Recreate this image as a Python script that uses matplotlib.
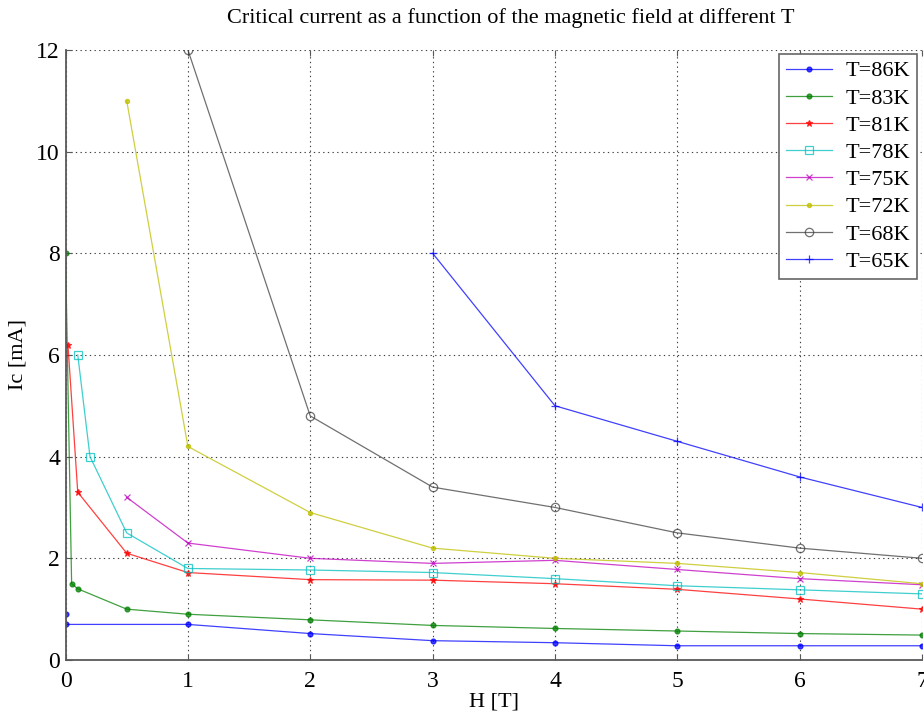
import matplotlib
matplotlib.use("Agg")
import matplotlib.pyplot as plt

plt.rcParams['font.family'] = ['Liberation Serif', 'DejaVu Serif']

# Critical current Ic [mA] versus applied field H [T] for each temperature
h_86 = [0, 0, 1, 2, 3, 4, 5, 6, 7]
ic_86 = [0.9, 0.7, 0.7, 0.52, 0.38, 0.34, 0.28, 0.28, 0.28]

h_83 = [0, 0.05, 0.1, 0.5, 1, 2, 3, 4, 5, 6, 7]
ic_83 = [8.0, 1.5, 1.4, 1.0, 0.9, 0.79, 0.68, 0.62, 0.57, 0.52, 0.49]

h_81 = [0.02, 0.1, 0.5, 1, 2, 3, 4, 5, 6, 7]
ic_81 = [6.2, 3.3, 2.1, 1.72, 1.58, 1.57, 1.5, 1.39, 1.2, 1.0]

h_78 = [0.1, 0.2, 0.5, 1, 2, 3, 4, 5, 6, 7]
ic_78 = [6.0, 4.0, 2.5, 1.8, 1.77, 1.72, 1.6, 1.46, 1.38, 1.3]

h_75 = [0.5, 1, 2, 3, 4, 5, 6, 7]
ic_75 = [3.2, 2.3, 2.0, 1.9, 1.96, 1.78, 1.6, 1.48]

h_72 = [0.5, 1, 2, 3, 4, 5, 6, 7]
ic_72 = [11.0, 4.2, 2.9, 2.2, 2.0, 1.9, 1.72, 1.5]

h_68 = [1, 2, 3, 4, 5, 6, 7]
ic_68 = [12.0, 4.8, 3.4, 3.0, 2.5, 2.2, 2.0]

h_65 = [3, 4, 5, 6, 7]
ic_65 = [8.0, 5.0, 4.3, 3.6, 3.0]

labels = ['T=86K', 'T=83K', 'T=81K', 'T=78K', 'T=75K', 'T=72K', 'T=68K', 'T=65K']

x_ticks = [0, 1, 2, 3, 4, 5, 6, 7]
y_ticks = [0, 2, 4, 6, 8, 10, 12]

series = [(h_86, ic_86), (h_83, ic_83), (h_81, ic_81), (h_78, ic_78),
          (h_75, ic_75), (h_72, ic_72), (h_68, ic_68), (h_65, ic_65)]

colors = [(0, 0, 1), (0, 0.5, 0), (1, 0, 0), (0, 0.75, 0.75),
          (0.75, 0, 0.75), (0.75, 0.75, 0), (0.25, 0.25, 0.25), (0, 0, 1)]
markers = ['o', 'o', '*', 's', 'x', 'o', 'o', '+']
msizes = [3.5, 3.5, 5, 6, 4, 3, 6, 6]
mfill = [True, True, True, False, True, True, False, True]

fig = plt.figure(figsize=(9.24, 7.17), dpi=100)
ax = fig.add_axes([0.0709, 0.0795, 0.927, 0.851])

for (h, ic), lab, c, m, ms, filled in zip(series, labels, colors, markers, msizes, mfill):
    ax.plot(h, ic, color=c, lw=0.9, marker=m, ms=ms, mew=0.9,
            mfc=c if filled else 'none', mec=c, label=lab, alpha=0.75)

ax.set_xlim(0, 7)
ax.set_ylim(0, 12)
ax.set_xticks(x_ticks)
ax.set_yticks(y_ticks)
ax.grid(True, color='0.25', linestyle=(0, (1.2, 3)), linewidth=0.8)

for side in ('top', 'right'):
    ax.spines[side].set_visible(False)
for side in ('left', 'bottom'):
    ax.spines[side].set_color('0.35')
    ax.spines[side].set_linewidth(1.3)

ax.tick_params(direction='in', top=True, right=False, length=4, width=0.8,
               color='0.35', labelsize=17)
ax.tick_params(axis='x', pad=8)
ax.tick_params(axis='y', pad=4)

ax.set_title('Critical current as a function of the magnetic field at different T',
             fontsize=16, pad=19, x=0.52)
ax.set_xlabel('H [T]', fontsize=16, labelpad=0)
ax.set_ylabel('Ic [mA]', fontsize=16, labelpad=6)

leg = ax.legend(loc='upper right', bbox_to_anchor=(0.994, 0.993), borderaxespad=0,
                fancybox=False, framealpha=1, edgecolor='0.4', fontsize=16,
                handlelength=2.1, labelspacing=0.3, borderpad=0.3, handletextpad=0.6)
leg.get_frame().set_linewidth(1.2)

fig.savefig('out.png', dpi=100)
